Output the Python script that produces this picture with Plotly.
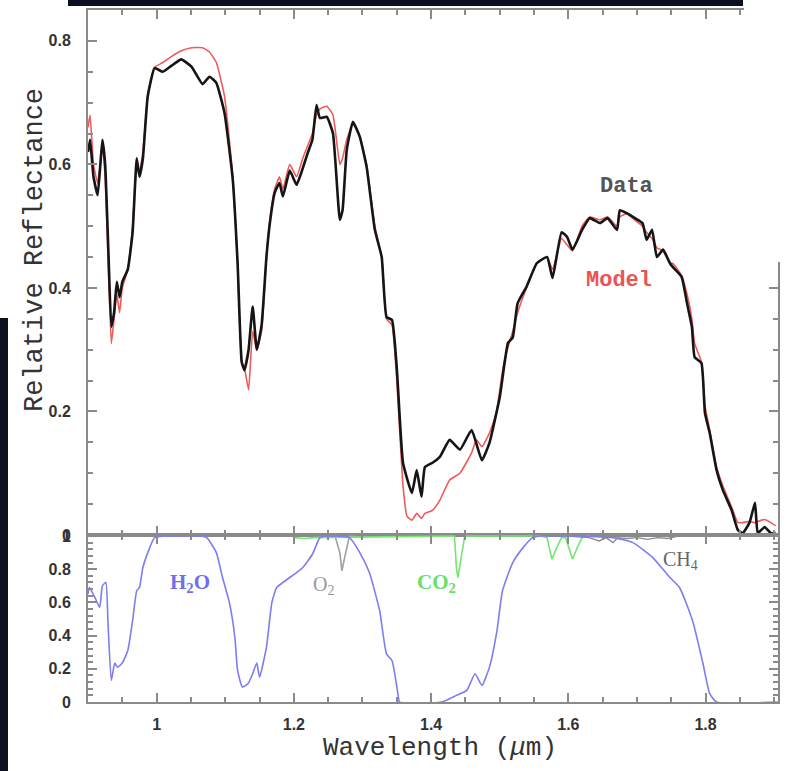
import plotly.graph_objects as go

# ---------------- data ----------------
data_wl = [0.900, 0.903, 0.908, 0.914, 0.918, 0.921, 0.925, 0.930, 0.934, 0.938, 0.942, 0.946, 0.950,
           0.958, 0.965, 0.971, 0.975, 0.980, 0.987, 0.997, 1.009, 1.022, 1.036, 1.051, 1.067, 1.077,
           1.087, 1.099, 1.111, 1.118, 1.124, 1.128, 1.134, 1.140, 1.146, 1.153, 1.160, 1.165, 1.172,
           1.179, 1.184, 1.194, 1.204, 1.213, 1.220, 1.227, 1.233, 1.238, 1.248, 1.257, 1.267, 1.271,
           1.277, 1.286, 1.296, 1.306, 1.318, 1.328, 1.335, 1.343, 1.350, 1.359, 1.372, 1.379, 1.386,
           1.391, 1.402, 1.413, 1.427, 1.442, 1.459, 1.474, 1.485, 1.500, 1.512, 1.519, 1.526, 1.539,
           1.554, 1.569, 1.577, 1.590, 1.598, 1.606, 1.620, 1.631, 1.646, 1.657, 1.671, 1.675, 1.685,
           1.697, 1.708, 1.714, 1.722, 1.729, 1.738, 1.748, 1.752, 1.765, 1.773, 1.780, 1.784, 1.794,
           1.799, 1.806, 1.816, 1.825, 1.838, 1.847, 1.854, 1.864, 1.872, 1.876, 1.886, 1.895, 1.902]
data_refl = [0.62, 0.64, 0.58, 0.55, 0.60, 0.64, 0.60, 0.45, 0.337, 0.36, 0.41, 0.385, 0.41,
             0.43, 0.49, 0.61, 0.58, 0.61, 0.71, 0.756, 0.75, 0.76, 0.77, 0.758, 0.73, 0.742,
             0.732, 0.683, 0.575, 0.44, 0.28, 0.267, 0.30, 0.37, 0.30, 0.34, 0.45, 0.505, 0.554,
             0.57, 0.548, 0.59, 0.567, 0.594, 0.618, 0.64, 0.696, 0.675, 0.677, 0.65, 0.51, 0.526,
             0.623, 0.669, 0.645, 0.596, 0.494, 0.45, 0.353, 0.348, 0.27, 0.117, 0.068, 0.105, 0.062,
             0.11, 0.117, 0.127, 0.154, 0.138, 0.17, 0.121, 0.149, 0.223, 0.311, 0.32, 0.375, 0.402,
             0.44, 0.45, 0.416, 0.49, 0.483, 0.462, 0.494, 0.513, 0.505, 0.513, 0.494, 0.526, 0.521,
             0.513, 0.505, 0.478, 0.494, 0.45, 0.462, 0.44, 0.434, 0.418, 0.375, 0.337, 0.288, 0.278,
             0.198, 0.165, 0.105, 0.073, 0.04, 0.008, 0.003, 0.02, 0.052, 0.003, 0.013, 0.003, 0.003]

model_wl = [0.900, 0.903, 0.908, 0.914, 0.918, 0.921, 0.925, 0.930, 0.934, 0.938, 0.942, 0.946, 0.950,
            0.958, 0.965, 0.971, 0.975, 0.980, 0.987, 0.997, 1.009, 1.022, 1.036, 1.051, 1.067, 1.077,
            1.087, 1.099, 1.111, 1.118, 1.124, 1.128, 1.134, 1.140, 1.146, 1.153, 1.160, 1.165, 1.172,
            1.179, 1.184, 1.194, 1.204, 1.213, 1.220, 1.227, 1.233, 1.238, 1.248, 1.257, 1.267, 1.271,
            1.277, 1.286, 1.296, 1.306, 1.318, 1.328, 1.335, 1.343, 1.350, 1.359, 1.365, 1.372, 1.379,
            1.386, 1.391, 1.402, 1.413, 1.427, 1.442, 1.459, 1.466, 1.474, 1.485, 1.495, 1.505, 1.512,
            1.519, 1.526, 1.539, 1.554, 1.569, 1.577, 1.590, 1.598, 1.606, 1.620, 1.631, 1.646, 1.657,
            1.671, 1.675, 1.685, 1.697, 1.708, 1.714, 1.722, 1.729, 1.738, 1.748, 1.752, 1.765, 1.773,
            1.780, 1.784, 1.794, 1.799, 1.806, 1.816, 1.825, 1.838, 1.847, 1.854, 1.864, 1.872, 1.876,
            1.886, 1.895, 1.902]
model_refl = [0.66, 0.68, 0.60, 0.57, 0.60, 0.63, 0.58, 0.42, 0.31, 0.35, 0.39, 0.36, 0.40,
              0.43, 0.50, 0.59, 0.59, 0.62, 0.71, 0.757, 0.765, 0.775, 0.784, 0.789, 0.789, 0.782,
              0.765, 0.71, 0.58, 0.44, 0.28, 0.27, 0.235, 0.33, 0.30, 0.33, 0.45, 0.51, 0.56,
              0.58, 0.56, 0.60, 0.58, 0.61, 0.63, 0.65, 0.68, 0.69, 0.694, 0.68, 0.60, 0.61,
              0.64, 0.665, 0.645, 0.60, 0.50, 0.45, 0.35, 0.34, 0.25, 0.08, 0.03, 0.024, 0.035,
              0.027, 0.035, 0.04, 0.057, 0.089, 0.10, 0.133, 0.154, 0.143, 0.165, 0.198, 0.272, 0.304,
              0.33, 0.36, 0.40, 0.44, 0.45, 0.43, 0.48, 0.47, 0.46, 0.50, 0.515, 0.51, 0.515,
              0.50, 0.515, 0.52, 0.51, 0.50, 0.49, 0.48, 0.465, 0.46, 0.44, 0.44, 0.42, 0.39,
              0.35, 0.31, 0.28, 0.21, 0.17, 0.11, 0.08, 0.045, 0.02, 0.02, 0.022, 0.02, 0.022,
              0.025, 0.02, 0.015]

h2o_wl = [0.900, 0.902, 0.910, 0.917, 0.921, 0.926, 0.929, 0.934, 0.939, 0.943, 0.950, 0.958, 0.965,
          0.971, 0.975, 0.980, 0.990, 0.997, 1.015, 1.063, 1.073, 1.087, 1.096, 1.106, 1.114, 1.118,
          1.125, 1.133, 1.140, 1.146, 1.150, 1.160, 1.168, 1.175, 1.184, 1.194, 1.204, 1.213, 1.227,
          1.238, 1.248, 1.281, 1.296, 1.310, 1.325, 1.335, 1.343, 1.352, 1.354, 1.415, 1.437, 1.452,
          1.464, 1.474, 1.485, 1.496, 1.504, 1.519, 1.534, 1.548, 1.558, 1.665, 1.694, 1.723, 1.748,
          1.762, 1.781, 1.796, 1.806, 1.816, 1.905]
h2o_trans = [0.65, 0.69, 0.63, 0.57, 0.70, 0.72, 0.49, 0.13, 0.235, 0.21, 0.235, 0.31, 0.49,
             0.67, 0.69, 0.81, 0.93, 0.99, 1.0, 1.0, 0.99, 0.90, 0.75, 0.60, 0.39, 0.19,
             0.09, 0.11, 0.17, 0.235, 0.15, 0.33, 0.60, 0.69, 0.72, 0.75, 0.78, 0.81, 0.89,
             0.99, 1.0, 0.99, 0.90, 0.78, 0.55, 0.29, 0.25, 0.04, 0.0, 0.0, 0.04, 0.07,
             0.17, 0.10, 0.21, 0.43, 0.67, 0.84, 0.93, 0.99, 1.0, 0.99, 0.96, 0.87, 0.75,
             0.69, 0.49, 0.235, 0.05, 0.0, 0.0]

o2_wl = [1.250, 1.260, 1.267, 1.270, 1.274, 1.281, 1.290]
o2_trans = [1.0, 1.0, 0.90, 0.79, 0.87, 1.0, 1.0]

co2_wl = [1.200, 1.215, 1.230, 1.425, 1.434, 1.437, 1.439, 1.445, 1.449, 1.460,
          1.560, 1.569, 1.576, 1.583, 1.590, 1.596, 1.606, 1.613, 1.620, 1.630]
co2_trans = [0.99, 0.985, 0.99, 1.0, 1.0, 0.80, 0.75, 0.90, 1.0, 1.0,
             1.0, 0.99, 0.86, 0.93, 0.99, 0.99, 0.86, 0.93, 0.99, 1.0]

ch4_wl = [1.600, 1.630, 1.645, 1.655, 1.665, 1.672, 1.685, 1.700, 1.715, 1.730, 1.745, 1.760]
ch4_trans = [1.0, 0.99, 0.97, 0.99, 0.96, 0.99, 0.985, 0.99, 0.98, 0.99, 0.985, 1.0]

top_ticks = [0, 0.2, 0.4, 0.6, 0.8]
top_tick_text = ["0", "0.2", "0.4", "0.6", "0.8"]
bot_ticks = [0, 0.2, 0.4, 0.6, 0.8, 1.0]
bot_tick_text = ["0", "0.2", "0.4", "0.6", "0.8", "1"]
x_ticks = [1.0, 1.2, 1.4, 1.6, 1.8]
x_tick_text = ["1", "1.2", "1.4", "1.6", "1.8"]

# ---------------- figure ----------------
fig = go.Figure()

fig.add_trace(go.Scatter(x=model_wl, y=model_refl, mode="lines", name="Model",
                         line=dict(color="#f05a5a", width=1.6, shape="spline", smoothing=0.4),
                         xaxis="x", yaxis="y"))
fig.add_trace(go.Scatter(x=data_wl, y=data_refl, mode="lines", name="Data",
                         line=dict(color="#151515", width=2.6, shape="spline", smoothing=0.4),
                         xaxis="x", yaxis="y"))

fig.add_trace(go.Scatter(x=o2_wl, y=o2_trans, mode="lines", name="O2",
                         line=dict(color="#a0a0a0", width=1.6), xaxis="x2", yaxis="y2"))
fig.add_trace(go.Scatter(x=co2_wl, y=co2_trans, mode="lines", name="CO2",
                         line=dict(color="#72e872", width=1.6), xaxis="x2", yaxis="y2"))
fig.add_trace(go.Scatter(x=ch4_wl, y=ch4_trans, mode="lines", name="CH4",
                         line=dict(color="#8a8a9a", width=1.4), xaxis="x2", yaxis="y2"))
fig.add_trace(go.Scatter(x=h2o_wl, y=h2o_trans, mode="lines", name="H2O",
                         line=dict(color="#7d7df2", width=1.6, shape="spline", smoothing=0.5),
                         xaxis="x2", yaxis="y2"))

frame = "#8a8a8a"
tickfont = dict(family="Liberation Sans", size=16, color="#333", weight="bold")
xr = [0.9, 1.9055]
split = (702 - 535) / 692

common_x = dict(range=xr, showline=True, linecolor=frame, linewidth=2, mirror="ticks",
                ticks="inside", ticklen=9, tickwidth=2, tickcolor=frame, automargin=False,
                tickvals=x_ticks, showgrid=False, zeroline=False,
                minor=dict(dtick=0.05, tick0=0.9, ticks="inside", ticklen=5, tickcolor=frame, tickwidth=1.5))

fig.update_layout(
    width=788, height=771,
    margin=dict(l=88, r=10, t=10, b=69, autoexpand=False),
    paper_bgcolor="white", plot_bgcolor="white",
    showlegend=False,
    xaxis=dict(**common_x, domain=[0, 1], anchor="y", showticklabels=False),
    yaxis=dict(domain=[split, 1], range=[0, 0.85], anchor="x", automargin=False,
               showline=True, linecolor=frame, linewidth=2, mirror="ticks",
               ticks="inside", ticklen=9, tickwidth=2, tickcolor=frame,
               tickvals=top_ticks, ticktext=top_tick_text, tickfont=tickfont,
               ticklabelstandoff=12, showgrid=False, zeroline=False,
               minor=dict(dtick=0.05, tick0=0, ticks="inside", ticklen=5, tickcolor=frame, tickwidth=1.5)),
    xaxis2=dict(**common_x, domain=[0, 1], anchor="y2", ticktext=x_tick_text,
                tickfont=tickfont, ticklabelstandoff=7),
    yaxis2=dict(domain=[0, split], range=[0, 1.006], anchor="x2", automargin=False,
                showline=True, linecolor=frame, linewidth=2, mirror="ticks",
                ticks="inside", ticklen=9, tickwidth=2, tickcolor=frame,
                tickvals=bot_ticks, ticktext=bot_tick_text, tickfont=tickfont,
                ticklabelstandoff=12, showgrid=False, zeroline=False,
                minor=dict(dtick=0.04, tick0=0, ticks="inside", ticklen=5, tickcolor=frame, tickwidth=1.5)),
)

def px_to_paper_x(px):
    return (px - 88) / 690

def py_to_paper_y(py):
    return (702 - py) / 692

annotations = [
    dict(text="Relative Reflectance", x=px_to_paper_x(35), y=py_to_paper_y(250), textangle=-90,
         font=dict(family="Liberation Mono", size=27, color="#333")),
    dict(text="Wavelength (<i>μ</i>m)", x=px_to_paper_x(440), y=py_to_paper_y(748),
         font=dict(family="Liberation Mono", size=26, color="#333")),
    dict(text="Data", x=px_to_paper_x(626), y=py_to_paper_y(186),
         font=dict(family="Liberation Mono", size=22, color="#555", weight="bold")),
    dict(text="Model", x=px_to_paper_x(619), y=py_to_paper_y(280),
         font=dict(family="Liberation Mono", size=22, color="#ee5252", weight="bold")),
    dict(text="H<sub>2</sub>O", x=px_to_paper_x(190), y=py_to_paper_y(583),
         font=dict(family="Liberation Serif", size=21, color="#6f6fee", weight="bold")),
    dict(text="O<sub>2</sub>", x=px_to_paper_x(323), y=py_to_paper_y(585),
         font=dict(family="Liberation Serif", size=20, color="#999")),
    dict(text="CO<sub>2</sub>", x=px_to_paper_x(436), y=py_to_paper_y(583),
         font=dict(family="Liberation Serif", size=21, color="#66e066", weight="bold")),
    dict(text="CH<sub>4</sub>", x=px_to_paper_x(680), y=py_to_paper_y(560),
         font=dict(family="Liberation Serif", size=20, color="#666")),
]
for a in annotations:
    a.update(xref="paper", yref="paper", showarrow=False, xanchor="center", yanchor="middle")
fig.update_layout(annotations=annotations)

shapes = [
    # white patch hiding the upper part of the right frame (as in the source image)
    dict(type="rect", xref="paper", yref="paper", x0=px_to_paper_x(744), x1=px_to_paper_x(792),
         y0=py_to_paper_y(262), y1=py_to_paper_y(-4), fillcolor="white", line=dict(width=0), layer="above"),
    # dark slide bar at the top
    dict(type="rect", xref="paper", yref="paper", x0=px_to_paper_x(68), x1=px_to_paper_x(743),
         y0=py_to_paper_y(6), y1=py_to_paper_y(-4), fillcolor="#0a1020", line=dict(width=0), layer="above"),
    # dark slide strip on the left
    dict(type="rect", xref="paper", yref="paper", x0=px_to_paper_x(-4), x1=px_to_paper_x(8),
         y0=py_to_paper_y(775), y1=py_to_paper_y(318), fillcolor="#0a1020", line=dict(width=0), layer="above"),
]
fig.update_layout(shapes=shapes)

fig.write_html("out.html", config={"displayModeBar": False},
               post_script="document.body.style.margin='0';document.body.style.padding='0';")
